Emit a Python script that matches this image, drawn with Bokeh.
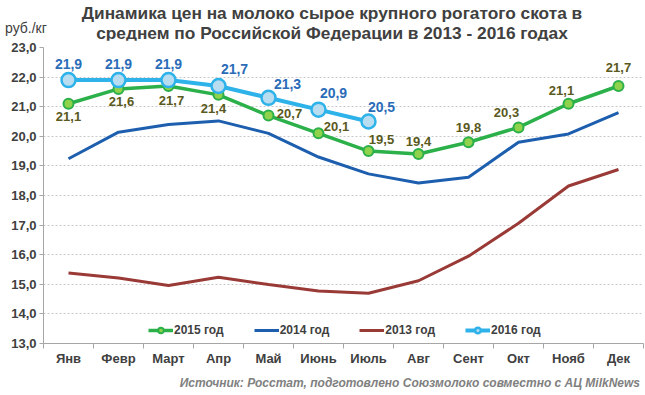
from bokeh.plotting import figure
from bokeh.layouts import column
from bokeh.models import ColumnDataSource, FixedTicker, Legend, LegendItem, Range1d, Div
from bokeh.core.properties import value
from bokeh.embed import file_html
from bokeh.resources import INLINE

# ---------------- data ----------------
months = ["Янв", "Февр", "Март", "Апр", "Май", "Июнь", "Июль", "Авг", "Сент", "Окт", "Нояб", "Дек"]
y2013 = [15.38, 15.21, 14.96, 15.24, 14.99, 14.77, 14.70, 15.12, 15.95, 17.06, 18.32, 18.88]
y2014 = [19.24, 20.14, 20.40, 20.52, 20.10, 19.30, 18.73, 18.42, 18.62, 19.80, 20.08, 20.80]
y2015 = [21.1, 21.6, 21.7, 21.4, 20.7, 20.1, 19.5, 19.4, 19.8, 20.3, 21.1, 21.7]
y2016 = [21.9, 21.9, 21.9, 21.7, 21.3, 20.9, 20.5]
yticks = [13, 14, 15, 16, 17, 18, 19, 20, 21, 22, 23]

title_lines = ["Динамика цен на молоко сырое крупного рогатого скота в",
               "среднем по Российской Федерации в 2013 - 2016 годах"]
unit_text = "руб./кг"
source_text = "Источник: Росстат,  подготовлено Союзмолоко совместно с АЦ MilkNews"

# label offsets (pixels, dx right, dy up) - styling only
off2015 = [(0, -13), (3, -13), (3, -15), (-5, -14), (21, 2), (18, 7), (13, 12),
           (0, 13), (0, 15), (-12, 15), (-7, 13), (0, 18)]
off2016 = [(0, 16), (0, 16), (0, 16), (16, 17), (19, 14), (15, 17), (13, 15)]

FONT = "Liberation Sans"
TXT = "#404040"

x12 = list(range(1, len(months) + 1))
x7 = x12[:len(y2016)]

def fmt(v):
    return f"{v:.1f}".replace(".", ",")

top = Div(width=645, height=40, styles={"margin": "0", "padding": "0"},
          text=(f'<div style="position:relative;width:645px;height:40px;font-family:\'{FONT}\';color:{TXT};">'
                f'<div style="position:absolute;left:5px;top:19px;font-size:14px;line-height:18px;">{unit_text}</div>'
                f'<div style="position:absolute;left:19px;width:626px;top:3px;text-align:center;font-weight:bold;'
                f'font-size:17.3px;line-height:20px;white-space:nowrap;">{title_lines[0]}<br>{title_lines[1]}</div>'
                f'</div>'))

bottom = Div(width=645, height=20, styles={"margin": "0", "padding": "0"},
             text=(f'<div style="width:640px;height:20px;text-align:right;font-family:\'{FONT}\';'
                   f'font-size:12px;line-height:16px;font-weight:bold;font-style:italic;color:#808080;'
                   f'white-space:nowrap;">{source_text}</div>'))

p = figure(width=645, height=335, output_backend="svg", toolbar_location=None,
           x_range=Range1d(0.5, 12.5), y_range=Range1d(13, 23),
           min_border_left=43, min_border_right=2, min_border_top=7, min_border_bottom=32)
p.outline_line_color = None
p.background_fill_color = "white"

# axes
p.xaxis.ticker = FixedTicker(ticks=x12, minor_ticks=[i + 0.5 for i in range(0, 13)])
p.xaxis.major_label_overrides = {i: m for i, m in zip(x12, months)}
p.xaxis.major_tick_line_color = None
p.xaxis.major_tick_out = 0
p.xaxis.minor_tick_out = 5
p.xaxis.minor_tick_in = 0
p.xaxis.minor_tick_line_color = "#a6a6a6"
p.xaxis.major_label_standoff = 2
p.yaxis.ticker = FixedTicker(ticks=yticks)
p.yaxis.major_label_overrides = {t: fmt(t) for t in yticks}
p.yaxis.minor_tick_line_color = None
p.yaxis.major_tick_out = 4
p.yaxis.major_tick_in = 0
p.yaxis.major_tick_line_color = "#a6a6a6"
p.yaxis.major_label_standoff = 3
for ax in (p.xaxis, p.yaxis):
    ax.axis_line_color = "#a6a6a6"
    ax.major_label_text_font = FONT
    ax.major_label_text_font_style = "bold"
    ax.major_label_text_font_size = "13px"
    ax.major_label_text_color = TXT

p.xgrid.grid_line_color = None
p.ygrid.grid_line_color = "#c8c8c8"
p.ygrid.grid_line_dash = "2 2"

# series
r13 = p.line(x12, y2013, line_color="#9a3a36", line_width=3)
r14 = p.line(x12, y2014, line_color="#1d5fae", line_width=3)
r15l = p.line(x12, y2015, line_color="#2bb04a", line_width=3.5)
r15m = p.scatter(x12, y2015, size=10, fill_color="#8fd24c", line_color="#2bb04a", line_width=2)
r16l = p.line(x7, y2016, line_color="#2eb2ea", line_width=4)
r16m = p.scatter(x7, y2016, size=14, fill_color="#b8dcf0", line_color="#2eb2ea", line_width=2.5)

# data labels
s15 = ColumnDataSource(dict(x=x12, y=y2015, t=[fmt(v) for v in y2015],
                            dx=[o[0] for o in off2015], dy=[-o[1] for o in off2015]))
p.text(x="x", y="y", text="t", x_offset="dx", y_offset="dy", source=s15,
       text_font=value(FONT), text_font_style="bold", text_font_size="13px",
       text_color="#5a5920", text_align="center", text_baseline="middle")
s16 = ColumnDataSource(dict(x=x7, y=y2016, t=[fmt(v) for v in y2016],
                            dx=[o[0] for o in off2016], dy=[-o[1] for o in off2016]))
p.text(x="x", y="y", text="t", x_offset="dx", y_offset="dy", source=s16,
       text_font=value(FONT), text_font_style="bold", text_font_size="14px",
       text_color="#2a6cb8", text_align="center", text_baseline="middle")

# legend
legend = Legend(items=[LegendItem(label="2015 год", renderers=[r15l, r15m]),
                       LegendItem(label="2014 год", renderers=[r14]),
                       LegendItem(label="2013 год", renderers=[r13]),
                       LegendItem(label="2016 год", renderers=[r16l, r16m])],
                orientation="horizontal", location=(105, 6), padding=0, margin=0,
                spacing=30, glyph_width=25, glyph_height=14, label_height=14,
                label_standoff=1, border_line_color=None, background_fill_alpha=0,
                label_text_font=FONT, label_text_font_style="bold",
                label_text_font_size="12px", label_text_color=TXT)
p.add_layout(legend, "center")

layout = column(top, p, bottom, spacing=0)
open("out.html", "w").write(file_html(layout, INLINE))
